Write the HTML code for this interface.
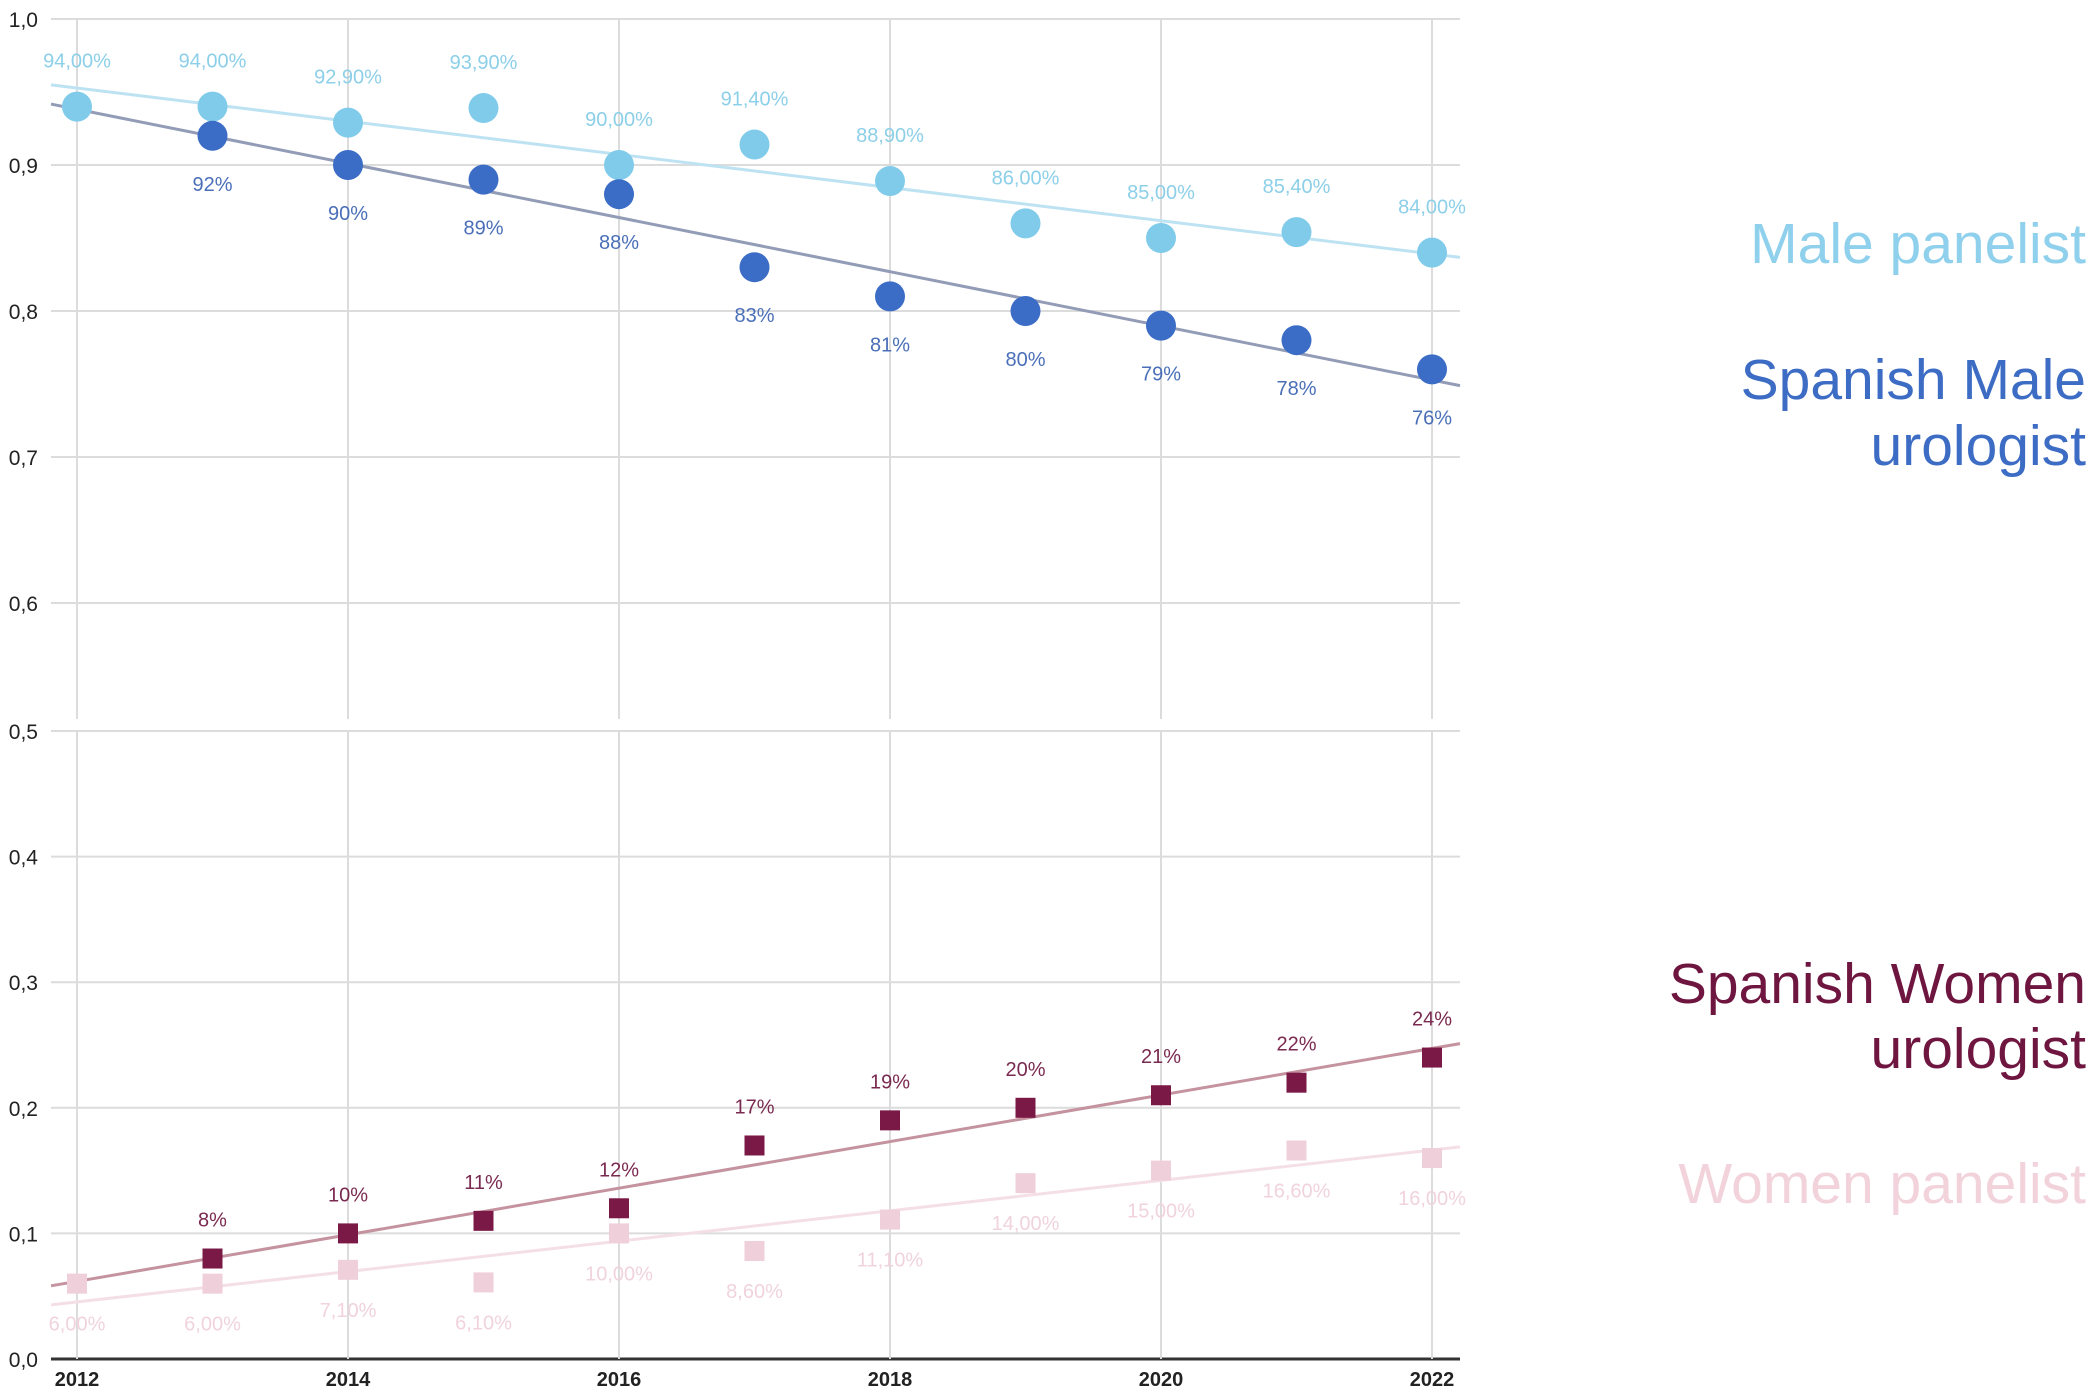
<!DOCTYPE html>
<html><head><meta charset="utf-8"><style>
html,body{margin:0;padding:0;background:#fff;}
svg{display:block;font-family:"Liberation Sans",Arial,sans-serif;}
</style></head><body>
<svg id="chart" width="2091" height="1398" viewBox="0 0 2091 1398" xmlns="http://www.w3.org/2000/svg">
<g id="grid"></g>
<g id="marks"></g>
<g id="legend">
<text x="2086" y="263" text-anchor="end" font-size="57" fill="#8fd0ec">Male panelist</text>
<text x="2086" y="399" text-anchor="end" font-size="57" fill="#3d6cc4">Spanish Male</text>
<text x="2086" y="465" text-anchor="end" font-size="57" fill="#3d6cc4">urologist</text>
<text x="2086" y="1003" text-anchor="end" font-size="57" fill="#6e1640">Spanish Women</text>
<text x="2086" y="1068" text-anchor="end" font-size="57" fill="#6e1640">urologist</text>
<text x="2086" y="1203" text-anchor="end" font-size="57" fill="#f2d3dc">Women panelist</text>
</g>
</svg>
<script>
const years = [2012,2013,2014,2015,2016,2017,2018,2019,2020,2021,2022];
const malePanel = [0.94,0.94,0.929,0.939,0.90,0.914,0.889,0.86,0.85,0.854,0.84];
const malePanelLabels = ["94,00%","94,00%","92,90%","93,90%","90,00%","91,40%","88,90%","86,00%","85,00%","85,40%","84,00%"];
const maleUro = [0.94,0.92,0.90,0.89,0.88,0.83,0.81,0.80,0.79,0.78,0.76];
const maleUroLabels = ["","92%","90%","89%","88%","83%","81%","80%","79%","78%","76%"];
const womenUro = [0.06,0.08,0.10,0.11,0.12,0.17,0.19,0.20,0.21,0.22,0.24];
const womenUroLabels = ["","8%","10%","11%","12%","17%","19%","20%","21%","22%","24%"];
const womenPanel = [0.06,0.06,0.071,0.061,0.10,0.086,0.111,0.14,0.15,0.166,0.16];
const womenPanelLabels = ["6,00%","6,00%","7,10%","6,10%","10,00%","8,60%","11,10%","14,00%","15,00%","16,60%","16,00%"];
const topTicks = ["1,0","0,9","0,8","0,7","0,6"];
const topTickVals = [1.0,0.9,0.8,0.7,0.6];
const botTicks = ["0,5","0,4","0,3","0,2","0,1","0,0"];
const botTickVals = [0.5,0.4,0.3,0.2,0.1,0.0];
const xTicks = [2012,2014,2016,2018,2020,2022];

const NS="http://www.w3.org/2000/svg";
const L=51,R=1460;
const x=v=>77+(v-2012)*135.5;
const yTop=v=>19+(1-v)*1460;
const yBot=v=>1359-v*1256;
const grid=document.getElementById('grid'), marks=document.getElementById('marks');
function mk(tag,attrs,parent){const e=document.createElementNS(NS,tag);for(const k in attrs)e.setAttribute(k,attrs[k]);parent.appendChild(e);return e;}

topTickVals.forEach((v,i)=>{
  const l=mk('line',{x1:L,x2:R,y1:yTop(v),y2:yTop(v),stroke:'#dcdcdc','stroke-width':2},grid);
  
  
  const t=mk('text',{x:38,y:yTop(v)+8,'text-anchor':'end','font-size':21,fill:'#222'},grid);
  t.textContent=topTicks[i];
  
  
});
botTickVals.forEach((v,i)=>{
  const l=mk('line',{x1:L,x2:R,y1:yBot(v),y2:yBot(v),stroke:v===0?'#333':'#dcdcdc','stroke-width':v===0?3:2},grid);
  
  
  const t=mk('text',{x:38,y:yBot(v)+8,'text-anchor':'end','font-size':21,fill:'#222'},grid);
  t.textContent=botTicks[i];
  
  
});
xTicks.forEach(yr=>{
  const a=mk('line',{x1:x(yr),x2:x(yr),y1:yTop(1.0),y2:719,stroke:'#dcdcdc','stroke-width':2},grid);
  
  
  const b=mk('line',{x1:x(yr),x2:x(yr),y1:yBot(0.5),y2:yBot(0),stroke:'#dcdcdc','stroke-width':2},grid);
  
  
  const t=mk('text',{x:x(yr),y:1386,'text-anchor':'middle','font-size':20,'font-weight':'bold',fill:'#222'},grid);
  t.textContent=yr;
  
  
});

function trend(vals,yf,color,name){
  const n=vals.length;let mx=0,my=0;
  years.forEach((yr,i)=>{mx+=yr;my+=vals[i];});mx/=n;my/=n;
  let sxy=0,sxx=0;years.forEach((yr,i)=>{sxy+=(yr-mx)*(vals[i]-my);sxx+=(yr-mx)*(yr-mx);});
  const b=sxy/sxx,a=my-b*mx;
  const x0=2012+(L-77)/135.5,x1=2012+(R-77)/135.5;
  const l=mk('line',{x1:L,x2:R,y1:yf(a+b*x0),y2:yf(a+b*x1),stroke:color,'stroke-width':3},marks);
  
  
}
trend(malePanel,yTop,'#bde3f3','trend-male-panelist');
trend(maleUro,yTop,'#929cb6','trend-spanish-male-urologist');
trend(womenPanel,yBot,'#f5dfe6','trend-women-panelist');
trend(womenUro,yBot,'#c4939f','trend-spanish-women-urologist');

function series(vals,labels,yf,shape,color,lcolor,off,name,skipUnlabeled){
  years.forEach((yr,i)=>{
    if(skipUnlabeled && !labels[i]) return;
    const cx=x(yr),cy=yf(vals[i]);
    let m;
    if(shape==='c') m=mk('circle',{cx:cx,cy:cy,r:15,fill:color},marks);
    else m=mk('rect',{x:cx-10,y:cy-10,width:20,height:20,fill:color},marks);
    
    
    if(labels[i]){
      const t=mk('text',{x:cx,y:cy+off+7,'text-anchor':'middle','font-size':20,fill:lcolor},marks);
      t.textContent=labels[i];
      
      
    }
  });
}
series(malePanel,malePanelLabels,yTop,'c','#80cbea','#8ccfe8',-46,'male-panelist',false);
series(maleUro,maleUroLabels,yTop,'c','#3b6cc6','#4a6fb8',48,'spanish-male-urologist',true);
series(womenPanel,womenPanelLabels,yBot,'s','#efcfd9','#f0d3dc',40,'women-panelist',false);
series(womenUro,womenUroLabels,yBot,'s','#7a1846','#7a2a50',-39,'spanish-women-urologist',true);
</script>
</body></html>
